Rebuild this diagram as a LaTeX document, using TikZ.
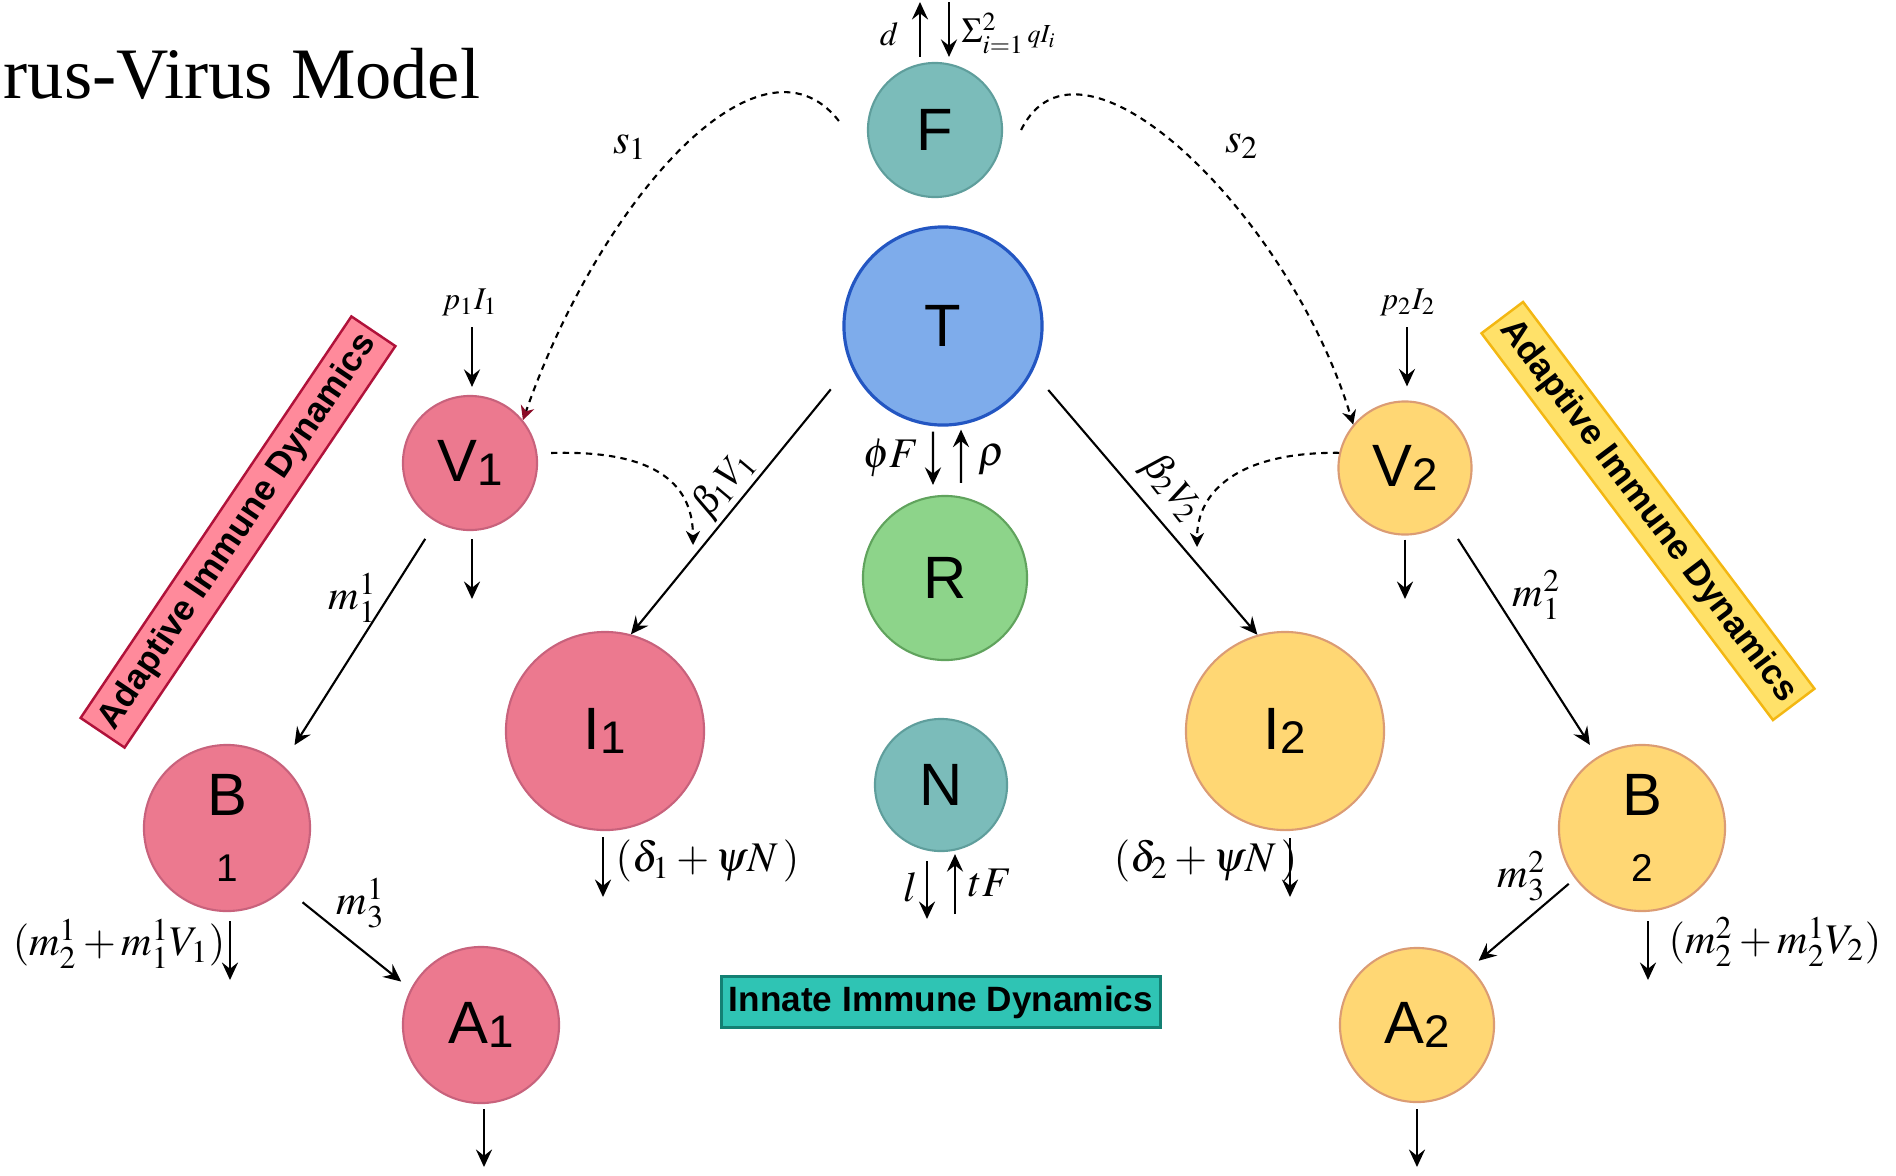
\documentclass[tikz,border=0pt]{standalone}
\usepackage{mathptmx}
\usepackage[no-math]{fontspec}
\setmainfont{Liberation Serif}
\setsansfont{Liberation Sans}
\usetikzlibrary{arrows.meta, positioning}

\definecolor{pinkfill}{HTML}{EC798F}
\definecolor{pinkline}{HTML}{C8627C}
\definecolor{goldfill}{HTML}{FFD774}
\definecolor{goldline}{HTML}{DB9C74}
\definecolor{tealfill}{HTML}{7BBCBA}
\definecolor{tealline}{HTML}{5F9E9C}
\definecolor{bluefill}{HTML}{7EACEB}
\definecolor{blueline}{HTML}{2356C2}
\definecolor{greenfill}{HTML}{8DD48A}
\definecolor{greenline}{HTML}{60A35D}
\definecolor{redboxfill}{HTML}{FF8A9B}
\definecolor{redboxline}{HTML}{B0123A}
\definecolor{yellowboxfill}{HTML}{FFE169}
\definecolor{yellowboxline}{HTML}{F3B712}
\definecolor{innatefill}{HTML}{2FC4B4}
\definecolor{innateline}{HTML}{138073}
\definecolor{tipred}{HTML}{8A0C28}

\newcommand{\cellfont}{\sffamily\fontsize{17}{18.8}\selectfont}
\newcommand{\cellsub}[1]{{\fontsize{13}{13}\selectfont\raisebox{-1pt}{#1}}}
\newcommand{\ratefont}{\fontsize{12}{12}\selectfont}

\tikzset{
  cell/.style={circle, draw, line width=0.6pt, inner sep=0pt, font=\cellfont},
  pinkcell/.style={cell, fill=pinkfill, draw=pinkline},
  goldcell/.style={cell, fill=goldfill, draw=goldline},
  tealcell/.style={cell, fill=tealfill, draw=tealline},
  flow/.style={->, line width=0.6pt},
  link/.style={-{Stealth[length=4pt, width=4pt, inset=1.3pt]}, line width=0.6pt, dash pattern=on 1.8pt off 1.5pt},
  rate/.style={inner sep=0pt, font=\ratefont},
  banner/.style={draw, line width=0.7pt, inner sep=0pt, font=\sffamily\bfseries\fontsize{10}{12}\selectfont}
}

\begin{document}
\begin{tikzpicture}[x=0.01cm, y=-0.01cm, >={Stealth[length=5pt, width=4.6pt, inset=1.8pt]}]
\useasboundingbox (0,0) rectangle (1896,1175);
\node[anchor=base west, inner sep=0pt, font=\fontsize{20.6}{24}\selectfont] (title) at (3,98) {rus-Virus Model};
\node[tealcell, minimum size=1.34cm] (F) at (935,130) {F};
\node[cell, fill=bluefill, draw=blueline, line width=0.9pt, minimum size=1.98cm] (T) at (943,326) {T};
\node[cell, fill=greenfill, draw=greenline, minimum size=1.64cm] (R) at (945,578) {R};
\node[tealcell, minimum size=1.32cm] (N) at (941,785) {N};
\node[pinkcell, minimum size=1.34cm] (V1) at (470,463) {V\cellsub{1}};
\node[goldcell, minimum size=1.33cm] (V2) at (1405,468) {V\cellsub{2}};
\node[pinkcell, minimum size=1.98cm] (I1) at (605,731) {I\cellsub{1}};
\node[goldcell, minimum size=1.98cm] (I2) at (1285,731) {I\cellsub{2}};
\node[pinkcell, minimum size=1.66cm, align=center] (B1) at (227,828) {B\\{\fontsize{11}{11}\selectfont 1}};
\node[goldcell, minimum size=1.66cm, align=center] (B2) at (1642,828) {B\\{\fontsize{11}{11}\selectfont 2}};
\node[pinkcell, minimum size=1.56cm] (A1) at (481,1025) {A\cellsub{1}};
\node[goldcell, minimum size=1.54cm] (A2) at (1417,1025) {A\cellsub{2}};
\node[banner, fill=redboxfill, draw=redboxline, minimum width=4.84cm, minimum height=0.53cm, rotate=56] (adaptL) at (238,532) {Adaptive Immune Dynamics};
\node[banner, fill=yellowboxfill, draw=yellowboxline, minimum width=4.84cm, minimum height=0.52cm, rotate=-53] (adaptR) at (1648,511) {Adaptive Immune Dynamics};
\node[banner, fill=innatefill, draw=innateline, minimum width=4.39cm, minimum height=0.51cm] (innate) at (941,1002) {Innate Immune Dynamics};

\coordinate (Fup) at (920,2);
\coordinate (Fin) at (949,2);
\coordinate (V1in) at (472,327);
\coordinate (V1out) at (472,599);
\coordinate (V2in) at (1407,327);
\coordinate (V2out) at (1405,599);
\coordinate (I1out) at (603,897);
\coordinate (I2out) at (1290,897);
\coordinate (Nout) at (927,919);
\coordinate (Nin) at (955,914);
\coordinate (B1out) at (230,980);
\coordinate (B2out) at (1648,980);
\coordinate (A1out) at (484,1167);
\coordinate (A2out) at (1417,1167);
\coordinate (beta1) at (693,545);
\coordinate (beta2) at (1197,547);

\draw[flow, shorten <=0.05cm] (F.north -| Fup) -- (Fup);
\draw[flow, shorten >=0.05cm] (Fin) -- (F.north -| Fin);
\draw[flow, shorten <=0.05cm, shorten >=0.1cm] ([xshift=-0.1cm]T.south) -- ([xshift=-0.12cm]R.north);
\draw[flow, shorten <=0.12cm, shorten >=0.03cm] ([xshift=0.16cm]R.north) -- ([xshift=0.18cm]T.south);
\draw[flow, shorten <=0.09cm] (N.south -| Nout) -- (Nout);
\draw[flow, shorten >=0.02cm] (Nin) -- (N.south -| Nin);
\draw[flow, shorten >=0.08cm] (V1in) -- (V1.north -| V1in);
\draw[flow, shorten <=0.08cm] (V1.south -| V1out) -- (V1out);
\draw[flow, shorten >=0.14cm] (V2in) -- (V2.north -| V2in);
\draw[flow, shorten <=0.04cm] (V2.south -| V2out) -- (V2out);
\draw[flow, shorten <=0.06cm] (I1.south -| I1out) -- (I1out);
\draw[flow, shorten <=0.07cm] (I2.south -| I2out) -- (I2out);
\draw[flow, shorten <=0.09cm] (B1.south -| B1out) -- (B1out);
\draw[flow, shorten <=0.09cm] (B2.south -| B2out) -- (B2out);
\draw[flow, shorten <=0.05cm] (A1.south -| A1out) -- (A1out);
\draw[flow, shorten <=0.06cm] (A2.south -| A2out) -- (A2out);
\draw[flow, shorten <=0.31cm] (T.203) -- (I1.75);
\draw[flow, shorten <=0.24cm] (T.333) -- (I2.106);
\draw[flow, shorten <=0.2cm, shorten >=0.23cm] (V1.240) -- (B1.49);
\draw[flow, shorten <=0.21cm, shorten >=0.14cm] (V2.308) -- (B2.122);
\draw[flow, shorten <=0.22cm, shorten >=0.12cm] (B1.314) -- (A1.153);
\draw[flow, shorten <=0.08cm, shorten >=0.11cm] (B2.217) -- (A2.47);
\draw[link, -{Stealth[length=4pt, width=4pt, inset=1.3pt, color=tipred]}] ([shift={(-0.28cm,0.09cm)}]F.west) .. controls (760,20) and (600,200) .. (V1.39);
\draw[link] ([xshift=0.18cm]F.east) .. controls (1080,10) and (1290,215) .. (V2.140);
\draw[link] ([shift={(0.13cm,0.1cm)}]V1.east) .. controls (650,450) and (693,480) .. (beta1);
\draw[link] (V2.167) .. controls (1240,452) and (1197,490) .. (beta2);

\node[rate, font=\fontsize{9.5}{10}\selectfont] (dlab) at (889,34) {$d$};
\node[rate, anchor=west, font=\fontsize{10}{10}\selectfont] (qlab) at (961,33) {$\Sigma_{i=1}^{2}{\scriptstyle\,qI_i}$};
\node[rate] (s1lab) at (630,147) {$s_1$};
\node[rate] (s2lab) at (1242,146) {$s_2$};
\node[rate, font=\fontsize{9}{9}\selectfont] (p1lab) at (470,302) {$p_1I_1$};
\node[rate, font=\fontsize{9}{9}\selectfont] (p2lab) at (1408,302) {$p_2I_2$};
\node[rate, rotate=50, font=\fontsize{11}{11}\selectfont] (b1lab) at (724,484) {$\beta_1V_1$};
\node[rate, rotate=-52, font=\fontsize{11}{11}\selectfont] (b2lab) at (1172,488) {$\beta_2V_2$};
\node[rate, anchor=east] (phlab) at (920,458) {$\phi F$};
\node[rate, anchor=west] (rholab) at (978,460) {$\rho$};
\node[rate] (m11lab) at (353,598) {$m_1^1$};
\node[rate] (m21lab) at (1537,595) {$m_1^2$};
\node[rate, anchor=west] (d1lab) at (615,861) {$(\delta_1+\psi N\,)$};
\node[rate, anchor=east] (d2lab) at (1298,861) {$(\delta_2+\psi N\,)$};
\node[rate] (llab) at (910,887) {$l$};
\node[rate] (tlab) at (990,883) {$tF$};
\node[rate] (m31lab) at (361,903) {$m_3^1$};
\node[rate] (m32lab) at (1522,876) {$m_3^2$};
\node[rate, anchor=east] (b1outlab) at (226,944) {$(m_2^1+m_1^1V_1)$};
\node[rate, anchor=west] (b2outlab) at (1668,942) {$(m_2^2+m_2^1V_2)$};
\end{tikzpicture}
\end{document}
